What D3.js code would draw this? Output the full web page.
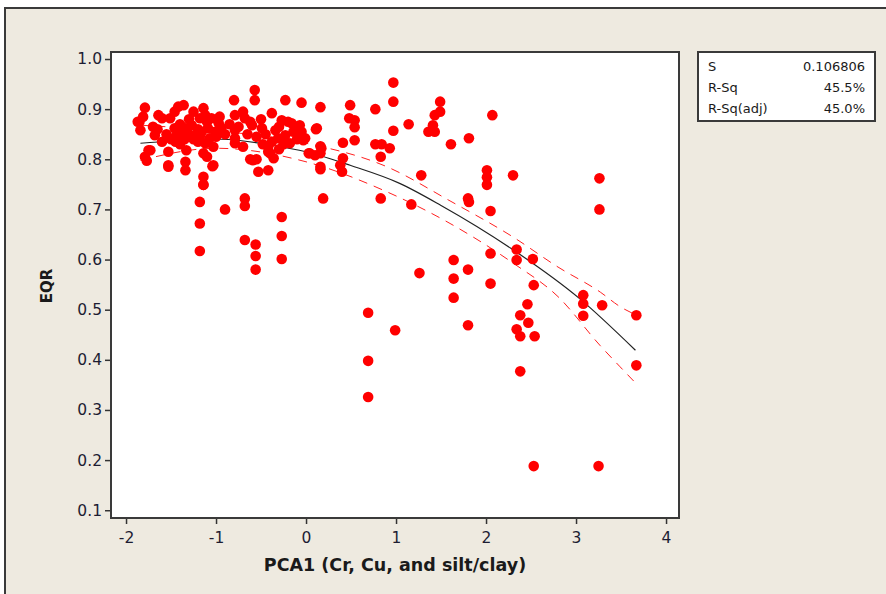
<!DOCTYPE html>
<html>
<head>
<meta charset="utf-8">
<script src="https://cdn.jsdelivr.net/npm/d3@7"></script>
<style>
  body { margin: 0; background: #ffffff; }
  svg { display: block; }
</style>
</head>
<body>
<div id="chart"></div>
<script>

//config var and add svg
var WD = 886, HT = 594
var plot = { left: 111, right: 679, top: 52, bottom: 518 }

// scatter data (PCA1, EQR)
var pcaX = [
  2.01, 2.01, 2.01, 2.30, 3.26, 3.26, 1.80, 1.81, 2.05, 2.34, 2.34, 2.05, 2.52, 1.64, 1.80, 1.64, 1.64, 2.05,
  2.53, 2.46, 2.38, 2.47, 2.34, 2.38, 2.54, 1.80, 3.08, 3.08, 3.08, 3.29, 3.67, 3.67, 2.38, 2.53, 3.25,
  -1.18, -1.14, -1.18, -1.18, -0.90, -0.68, -0.68, -0.68, -0.56, -0.56, -0.56, -0.27, -0.27, -0.27, 0.19,
  0.83, 1.17, 1.26, 0.69, 0.99, 0.69, 0.69,
  0.97, 0.97, 0.16, 0.49, 0.77, -0.05, 1.49, 1.49, 1.43, 2.07, 1.14, 0.48, 0.54, 0.54, 0.97, 1.41, 1.36,
  1.43, 0.11, -0.07, -0.03, 0.54, 0.41, 1.61, 1.81, 0.77, 0.84, 0.93, 0.83, 0.16, 0.04, 0.16, 0.41, 0.38,
  0.40, 0.16, 1.28,
  -0.57, -0.57, -0.80, -0.23, -1.79, -1.81, -1.84, -1.64, -1.60, -1.42, -1.36, -1.46, -1.51, -1.14, -1.12,
  -1.18, -1.05, -0.96, -0.97, -0.79, -0.70, -0.68, -0.62, -0.60, -0.38, -0.27, -0.20, -0.16, -0.09, 0.12,
  -0.79, -0.49, -0.34, -0.14, -0.05, -0.01, -1.34, -1.27, -1.38, -1.46, -1.23, -1.16, -1.09, -1.01, -0.94,
  -1.07, -1.12, -1.03, -1.14, -1.10, -1.33, -1.53, -1.53, -1.34, -1.34, -1.03, -1.14, -1.14, -1.75, -1.79,
  -0.79, -0.79, -0.70, -0.59, -0.53, -0.42, -0.42, -0.38, -0.31, -0.42, -0.36, -0.23, -0.18, -0.07, 0.10,
  0.17, 0.16, 0.03, -1.77, -1.73, -1.53, -1.04, -0.40,
  -1.85, -1.70, -1.55, -1.50, -1.45, -1.40, -1.30, -1.25, -1.20, -1.20, -1.10, -1.00, -0.90, -0.85, -0.75,
  -0.65, -0.55, -0.50, -0.45, -0.30, -0.25, -0.10, -1.65, -1.60, -1.40, -1.30, -1.25, -0.62, -0.55, -0.48,
  -0.30, -1.87, -1.68, -1.35, -1.45, -1.28, -1.18
]
var eqrY = [
  0.778, 0.764, 0.749, 0.768, 0.762, 0.700, 0.722, 0.715, 0.697, 0.620, 0.599, 0.612, 0.601, 0.599, 0.580, 0.562, 0.524, 0.552,
  0.549, 0.511, 0.489, 0.474, 0.461, 0.447, 0.447, 0.469, 0.529, 0.512, 0.488, 0.509, 0.489, 0.389, 0.377, 0.188, 0.188,
  0.715, 0.749, 0.672, 0.617, 0.700, 0.722, 0.707, 0.639, 0.630, 0.607, 0.580, 0.685, 0.647, 0.601, 0.722,
  0.722, 0.710, 0.573, 0.494, 0.459, 0.398, 0.326,
  0.953, 0.915, 0.904, 0.908, 0.900, 0.913, 0.915, 0.895, 0.888, 0.888, 0.870, 0.882, 0.878, 0.864, 0.857, 0.868, 0.855,
  0.855, 0.860, 0.868, 0.838, 0.838, 0.833, 0.830, 0.842, 0.830, 0.830, 0.822, 0.805, 0.826, 0.812, 0.812, 0.802, 0.788,
  0.775, 0.780, 0.768,
  0.938, 0.918, 0.918, 0.918, 0.903, 0.885, 0.858, 0.888, 0.882, 0.905, 0.908, 0.895, 0.882, 0.902, 0.888,
  0.882, 0.882, 0.885, 0.872, 0.888, 0.895, 0.882, 0.875, 0.868, 0.892, 0.878, 0.875, 0.872, 0.865, 0.862,
  0.858, 0.862, 0.858, 0.855, 0.855, 0.842, 0.862, 0.868, 0.852, 0.862, 0.848, 0.855, 0.862, 0.855, 0.862,
  0.842, 0.832, 0.825, 0.812, 0.805, 0.818, 0.815, 0.788, 0.795, 0.778, 0.788, 0.765, 0.749, 0.818, 0.805,
  0.832, 0.842, 0.825, 0.798, 0.775, 0.778, 0.825, 0.835, 0.842, 0.815, 0.802, 0.848, 0.832, 0.858, 0.808,
  0.822, 0.785, 0.812, 0.797, 0.818, 0.785, 0.786, 0.812,
  0.875, 0.865, 0.850, 0.840, 0.845, 0.870, 0.850, 0.840, 0.860, 0.835, 0.875, 0.845, 0.850, 0.870, 0.865,
  0.850, 0.845, 0.880, 0.850, 0.865, 0.830, 0.840, 0.860, 0.835, 0.830, 0.880, 0.895, 0.800, 0.800, 0.830,
  0.820, 0.875, 0.848, 0.840, 0.835, 0.845, 0.845
]

// fitted curve and 95% CI
var fitX = [-1.84, -1.5, -0.94, -0.38, 0, 0.49, 1.04, 1.5, 2.28, 3.04, 3.66]
var fitY = [0.832, 0.836, 0.840, 0.828, 0.815, 0.788, 0.752, 0.708, 0.622, 0.522, 0.419]
var ciX = [-1.84, -1.0, 0, 0.9, 1.6, 2.3, 2.8, 3.27, 3.49, 3.66]
var ciLow = [0.798, 0.822, 0.795, 0.735, 0.672, 0.593, 0.526, 0.428, 0.386, 0.354]
var ciHigh = [0.868, 0.857, 0.832, 0.785, 0.717, 0.645, 0.585, 0.535, 0.506, 0.490]

var xTicks = [-2, -1, 0, 1, 2, 3, 4]
var yTicks = [0.1, 0.2, 0.3, 0.4, 0.5, 0.6, 0.7, 0.8, 0.9, 1.0]

var statLabels = ["S", "R-Sq", "R-Sq(adj)"]
var statValues = ["0.106806", "45.5%", "45.0%"]

var xTitle = "PCA1 (Cr, Cu, and silt/clay)"
var yTitle = "EQR"

var x = d3.scaleLinear().domain([-2.167, 4.144]).range([plot.left, plot.right])
var y = d3.scaleLinear().domain([0.0845, 1.014]).range([plot.bottom, plot.top])

var svg = d3.select("#chart")
  .append("svg")
    .attr("width", WD)
    .attr("height", HT)

// outer graph frame
svg.append("rect")
  .attr("x", 5).attr("y", 8)
  .attr("width", WD + 10).attr("height", HT + 10)
  .attr("fill", "#eeeae0")
  .attr("stroke", "#3a3a3a")
  .attr("stroke-width", 2)

// plot area
svg.append("rect")
  .attr("x", plot.left).attr("y", plot.top)
  .attr("width", plot.right - plot.left)
  .attr("height", plot.bottom - plot.top)
  .attr("fill", "#ffffff")

// axes (plain hyphen for negatives, like the original)
var xAxis = svg.append("g")
  .attr("transform", "translate(0," + plot.bottom + ")")
  .call(d3.axisBottom(x).tickValues(xTicks).tickSize(6).tickSizeOuter(0)
    .tickFormat(function(d) { return String(d) }))
var yAxis = svg.append("g")
  .attr("transform", "translate(" + plot.left + ",0)")
  .call(d3.axisLeft(y).tickValues(yTicks).tickSize(6).tickSizeOuter(0).tickFormat(d3.format(".1f")))

svg.selectAll(".domain").remove()
svg.selectAll(".tick line").attr("stroke", "#333").attr("stroke-width", 1.5)
svg.selectAll(".tick text")
  .attr("fill", "#1d1d33")
  .style("font-family", "DejaVu Sans")
  .style("font-size", "15.5px")
xAxis.selectAll(".tick text").attr("dy", "1.05em")
yAxis.selectAll(".tick text").attr("x", -9)

// fitted line & CI
var line = d3.line()
  .x(function(d) { return x(d[0]) })
  .y(function(d) { return y(d[1]) })
  .curve(d3.curveMonotoneX)

var g = svg.append("g")

g.append("path")
  .datum(d3.zip(ciX, ciHigh))
  .attr("d", line)
  .attr("fill", "none")
  .attr("stroke", "#ff2020")
  .attr("stroke-width", 1)
  .attr("stroke-dasharray", "9,7")

g.append("path")
  .datum(d3.zip(ciX, ciLow))
  .attr("d", line)
  .attr("fill", "none")
  .attr("stroke", "#ff2020")
  .attr("stroke-width", 1)
  .attr("stroke-dasharray", "9,7")

g.append("path")
  .datum(d3.zip(fitX, fitY))
  .attr("d", line)
  .attr("fill", "none")
  .attr("stroke", "#222")
  .attr("stroke-width", 1.2)

// points
g.selectAll("circle")
  .data(d3.zip(pcaX, eqrY))
  .enter().append("circle")
    .attr("cx", function(d) { return x(d[0]) })
    .attr("cy", function(d) { return y(d[1]) })
    .attr("r", 5.3)
    .attr("fill", "#ff0000")

// plot border on top
svg.append("rect")
  .attr("x", plot.left).attr("y", plot.top)
  .attr("width", plot.right - plot.left)
  .attr("height", plot.bottom - plot.top)
  .attr("fill", "none")
  .attr("stroke", "#3a3a3a")
  .attr("stroke-width", 2)

// axis titles
svg.append("text")
  .attr("x", (plot.left + plot.right) / 2)
  .attr("y", 571)
  .attr("text-anchor", "middle")
  .attr("fill", "#1a1a1a")
  .style("font-family", "DejaVu Sans")
  .style("font-weight", "bold")
  .style("font-size", "17.5px")
  .text(xTitle)

svg.append("text")
  .attr("transform", "translate(52,286) rotate(-90)")
  .attr("text-anchor", "middle")
  .attr("fill", "#1a1a1a")
  .style("font-family", "DejaVu Sans")
  .style("font-weight", "bold")
  .style("font-size", "15px")
  .text(yTitle)

// stats box
var box = { x: 698, y: 52, w: 177, h: 69 }
svg.append("rect")
  .attr("x", box.x).attr("y", box.y)
  .attr("width", box.w).attr("height", box.h)
  .attr("fill", "#ffffff")
  .attr("stroke", "#3a3a3a")
  .attr("stroke-width", 2)

var rows = svg.selectAll(".stat")
  .data(d3.zip(statLabels, statValues))
  .enter().append("g")
    .attr("class", "stat")
    .attr("transform", function(d, i) { return "translate(0," + (71 + i * 21) + ")" })

rows.append("text")
  .attr("x", 708)
  .text(function(d) { return d[0] })
rows.append("text")
  .attr("x", 865)
  .attr("text-anchor", "end")
  .text(function(d) { return d[1] })
rows.selectAll("text")
  .attr("fill", "#1a1a1a")
  .style("font-family", "DejaVu Sans")
  .style("font-size", "13px")

</script>
</body>
</html>
